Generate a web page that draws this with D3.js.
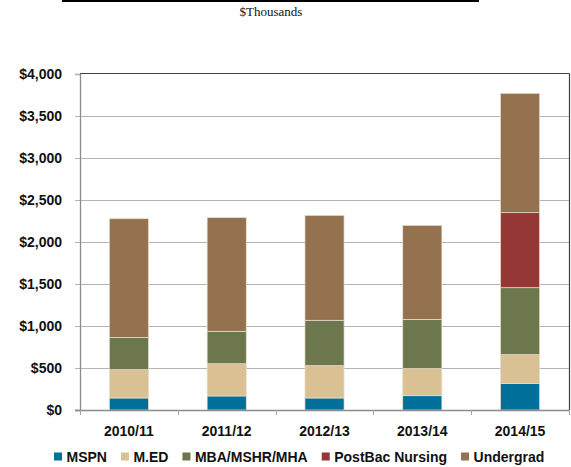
<!DOCTYPE html>
<html>
<head>
<meta charset="utf-8">
<script src="https://cdn.jsdelivr.net/npm/d3@7/dist/d3.min.js"></script>
<style>
  html, body { margin: 0; padding: 0; background: #fff; }
  svg { display: block; }
</style>
</head>
<body>
<svg id="chart" width="571" height="467"></svg>
<script>
// Academic years on the x axis
const years = ["2010/11", "2011/12", "2012/13", "2013/14", "2014/15"];

// Program revenue by year, $ thousands (stacked bottom to top)
const seriesNames = ["MSPN", "M.ED", "MBA/MSHR/MHA", "PostBac Nursing", "Undergrad"];
const mspn      = [143, 167, 143, 170, 317];
const med       = [337, 384, 385, 322, 342];
const mba       = [385, 386, 540, 587, 797];
const postbac   = [0,   0,   0,   0,   893];
const undergrad = [1412, 1353, 1249, 1119, 1421];

const yTicks = [0, 500, 1000, 1500, 2000, 2500, 3000, 3500, 4000];
const colors = ["#00709A", "#D9C193", "#6D774D", "#953735", "#94724F"];

const svg = d3.select("#chart");
const font = "'Liberation Sans', Arial, sans-serif";

const plot = { left: 80, right: 569, top: 74, bottom: 410 };

const x = d3.scaleBand()
  .domain(years)
  .range([plot.left, plot.right])
  .paddingInner(0.6)
  .paddingOuter(0.3);

const y = d3.scaleLinear()
  .domain([0, 4000])
  .range([plot.bottom, plot.top]);

// Header rule and unit caption
svg.append("rect")
  .attr("x", 62).attr("y", 0).attr("width", 417).attr("height", 2)
  .attr("fill", "#000");
svg.append("text")
  .attr("x", 271).attr("y", 16)
  .attr("text-anchor", "middle")
  .attr("font-family", "'Liberation Serif', 'Times New Roman', serif")
  .attr("font-size", 13)
  .attr("fill", "#111")
  .text("$Thousands");

// Horizontal gridlines (with small ticks left of the axis)
svg.append("g")
  .selectAll("line")
  .data(yTicks.filter(t => t > 0 && t < 4000))
  .join("line")
  .attr("x1", plot.left - 5).attr("x2", plot.right)
  .attr("y1", d => Math.round(y(d)) + 0.5)
  .attr("y2", d => Math.round(y(d)) + 0.5)
  .attr("stroke", "#B3B3B3")
  .attr("stroke-width", 1);

// Stacked bars
const table = years.map((yr, i) => ({
  year: yr,
  "MSPN": mspn[i],
  "M.ED": med[i],
  "MBA/MSHR/MHA": mba[i],
  "PostBac Nursing": postbac[i],
  "Undergrad": undergrad[i]
}));
const stacked = d3.stack().keys(seriesNames)(table);

svg.append("g")
  .selectAll("g")
  .data(stacked)
  .join("g")
  .attr("fill", (d, i) => colors[i])
  .selectAll("rect")
  .data(d => d.filter(p => p[1] - p[0] > 0))
  .join("rect")
  .attr("x", d => x(d.data.year))
  .attr("width", x.bandwidth())
  .attr("y", d => y(d[1]))
  .attr("height", d => y(d[0]) - y(d[1]))
  .attr("stroke", "#EADFD2")
  .attr("stroke-width", 0.7);

// Plot frame: dark top and right edges
svg.append("line")
  .attr("x1", plot.left).attr("x2", plot.right + 0.5)
  .attr("y1", plot.top - 0.5).attr("y2", plot.top - 0.5)
  .attr("stroke", "#404040").attr("stroke-width", 1.2);
svg.append("line")
  .attr("x1", plot.right + 0.5).attr("x2", plot.right + 0.5)
  .attr("y1", plot.top - 0.5).attr("y2", plot.bottom)
  .attr("stroke", "#404040").attr("stroke-width", 1.2);

// Y axis
const yAxis = svg.append("g")
  .attr("transform", `translate(${plot.left},0)`)
  .call(d3.axisLeft(y).tickValues(yTicks).tickFormat(d3.format("$,")).tickSize(5).tickPadding(13));
yAxis.select(".domain").attr("stroke", "#8C8C8C").attr("stroke-width", 1.3);
yAxis.selectAll(".tick line").attr("stroke", "#B3B3B3");
yAxis.selectAll(".tick text")
  .attr("font-family", font)
  .attr("font-weight", "bold")
  .attr("font-size", 14)
  .attr("fill", "#111");

// X axis with tick marks at the category boundaries
const xAxis = svg.append("g")
  .attr("transform", `translate(0,${plot.bottom})`);
xAxis.append("line")
  .attr("x1", plot.left - 5).attr("x2", plot.right + 0.5)
  .attr("y1", 0.5).attr("y2", 0.5)
  .attr("stroke", "#8C8C8C").attr("stroke-width", 1.3);
const gap = (x.step() - x.bandwidth()) / 2;
const bounds = years.map(d => x(d) - gap).concat([x(years[years.length - 1]) + x.bandwidth() + gap]);
xAxis.selectAll("line.tk")
  .data(bounds)
  .join("line")
  .attr("class", "tk")
  .attr("x1", d => Math.round(d) + 0.5).attr("x2", d => Math.round(d) + 0.5)
  .attr("y1", 0).attr("y2", 5)
  .attr("stroke", "#A6A6A6");
xAxis.selectAll("text")
  .data(years)
  .join("text")
  .attr("x", d => x(d) + x.bandwidth() / 2)
  .attr("y", 26)
  .attr("text-anchor", "middle")
  .attr("font-family", font)
  .attr("font-weight", "bold")
  .attr("font-size", 14)
  .attr("fill", "#111")
  .text(d => d);

// Legend
const legend = svg.append("g").attr("transform", "translate(54,0)");
let lx = 0;
seriesNames.forEach((name, i) => {
  const item = legend.append("g").attr("transform", `translate(${lx},0)`);
  item.append("rect")
    .attr("x", 0).attr("y", 452.5).attr("width", 8).attr("height", 8)
    .attr("fill", colors[i]);
  const t = item.append("text")
    .attr("x", 12.5).attr("y", 461.5)
    .attr("font-family", font)
    .attr("font-weight", "bold")
    .attr("font-size", 14)
    .attr("fill", "#111")
    .text(name);
  lx += 12.5 + t.node().getComputedTextLength() + 14;
});
</script>
</body>
</html>
